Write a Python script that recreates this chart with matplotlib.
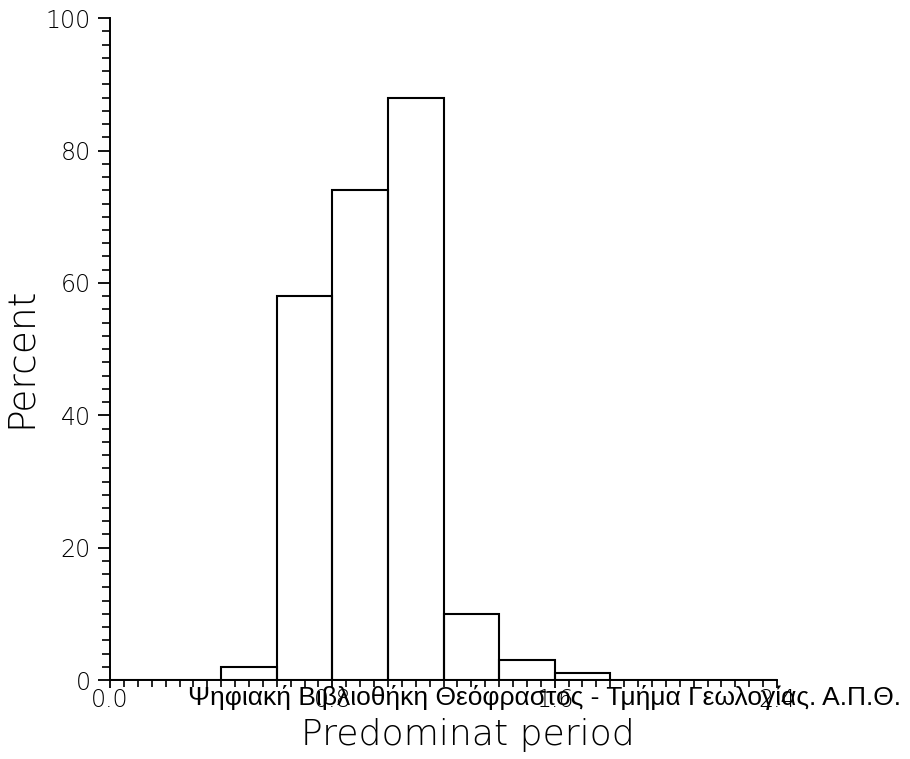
import matplotlib
matplotlib.use("Agg")
import matplotlib.pyplot as plt
import numpy as np
from matplotlib.ticker import MultipleLocator, FixedLocator

# histogram of predominant period (bin width 0.2)
bin_left = [0.0, 0.2, 0.4, 0.6, 0.8, 1.0, 1.2, 1.4, 1.6, 1.8, 2.0, 2.2]
percent = [0, 0, 2, 58, 74, 88, 10, 3, 1, 0, 0, 0]
bin_width = 0.2

x_ticks = [0.0, 0.8, 1.6, 2.4]
x_tick_labels = ["0.0", "0.8", "1.6", "2.4"]
y_ticks = [0, 20, 40, 60, 80, 100]

watermark = "Ψηφιακή Βιβλιοθήκη Θεόφραστος - Τμήμα Γεωλογίας. Α.Π.Θ."

plt.rcParams["font.family"] = ["DejaVu Sans"]
plt.rcParams["font.weight"] = "light"

fig = plt.figure(figsize=(9.1, 7.59), dpi=100)
ax = fig.add_axes([0.1209, 0.104, 0.733, 0.872])

ax.bar(bin_left, percent, width=bin_width, align="edge",
       facecolor="none", edgecolor="black", linewidth=1.5)

ax.set_xlim(0, 2.4)
ax.set_ylim(0, 100)

ax.spines["top"].set_visible(False)
ax.spines["right"].set_visible(False)
ax.spines["left"].set_linewidth(1.4)
ax.spines["bottom"].set_linewidth(1.4)

ax.xaxis.set_major_locator(FixedLocator(x_ticks))
ax.set_xticklabels(x_tick_labels)
ax.xaxis.set_minor_locator(MultipleLocator(0.05))
ax.yaxis.set_major_locator(FixedLocator(y_ticks))
ax.yaxis.set_minor_locator(MultipleLocator(2))

ax.tick_params(axis="y", which="major", direction="out", length=9, width=1.3,
               labelsize=17, colors="black", pad=5)
ax.tick_params(axis="y", which="minor", direction="out", length=6, width=1.2)
ax.tick_params(axis="x", which="major", direction="out", length=6, width=1.3,
               labelsize=17, colors="black", pad=0)
ax.tick_params(axis="x", which="minor", direction="out", length=5, width=1.2)

fig.text(20 / 910, 1 - 357 / 759, "Percent", fontsize=27, rotation=90,
         ha="center", va="center", color="black")
fig.text(468 / 910, 1 - 745 / 759, "Predominat period", fontsize=26,
         ha="center", va="baseline", color="black")

fig.text(544 / 910, 1 - 705 / 759, watermark, fontsize=19,
         family="Liberation Sans", fontweight="normal",
         ha="center", va="baseline", color="black")

fig.savefig("out.png", dpi=100, facecolor="white")
